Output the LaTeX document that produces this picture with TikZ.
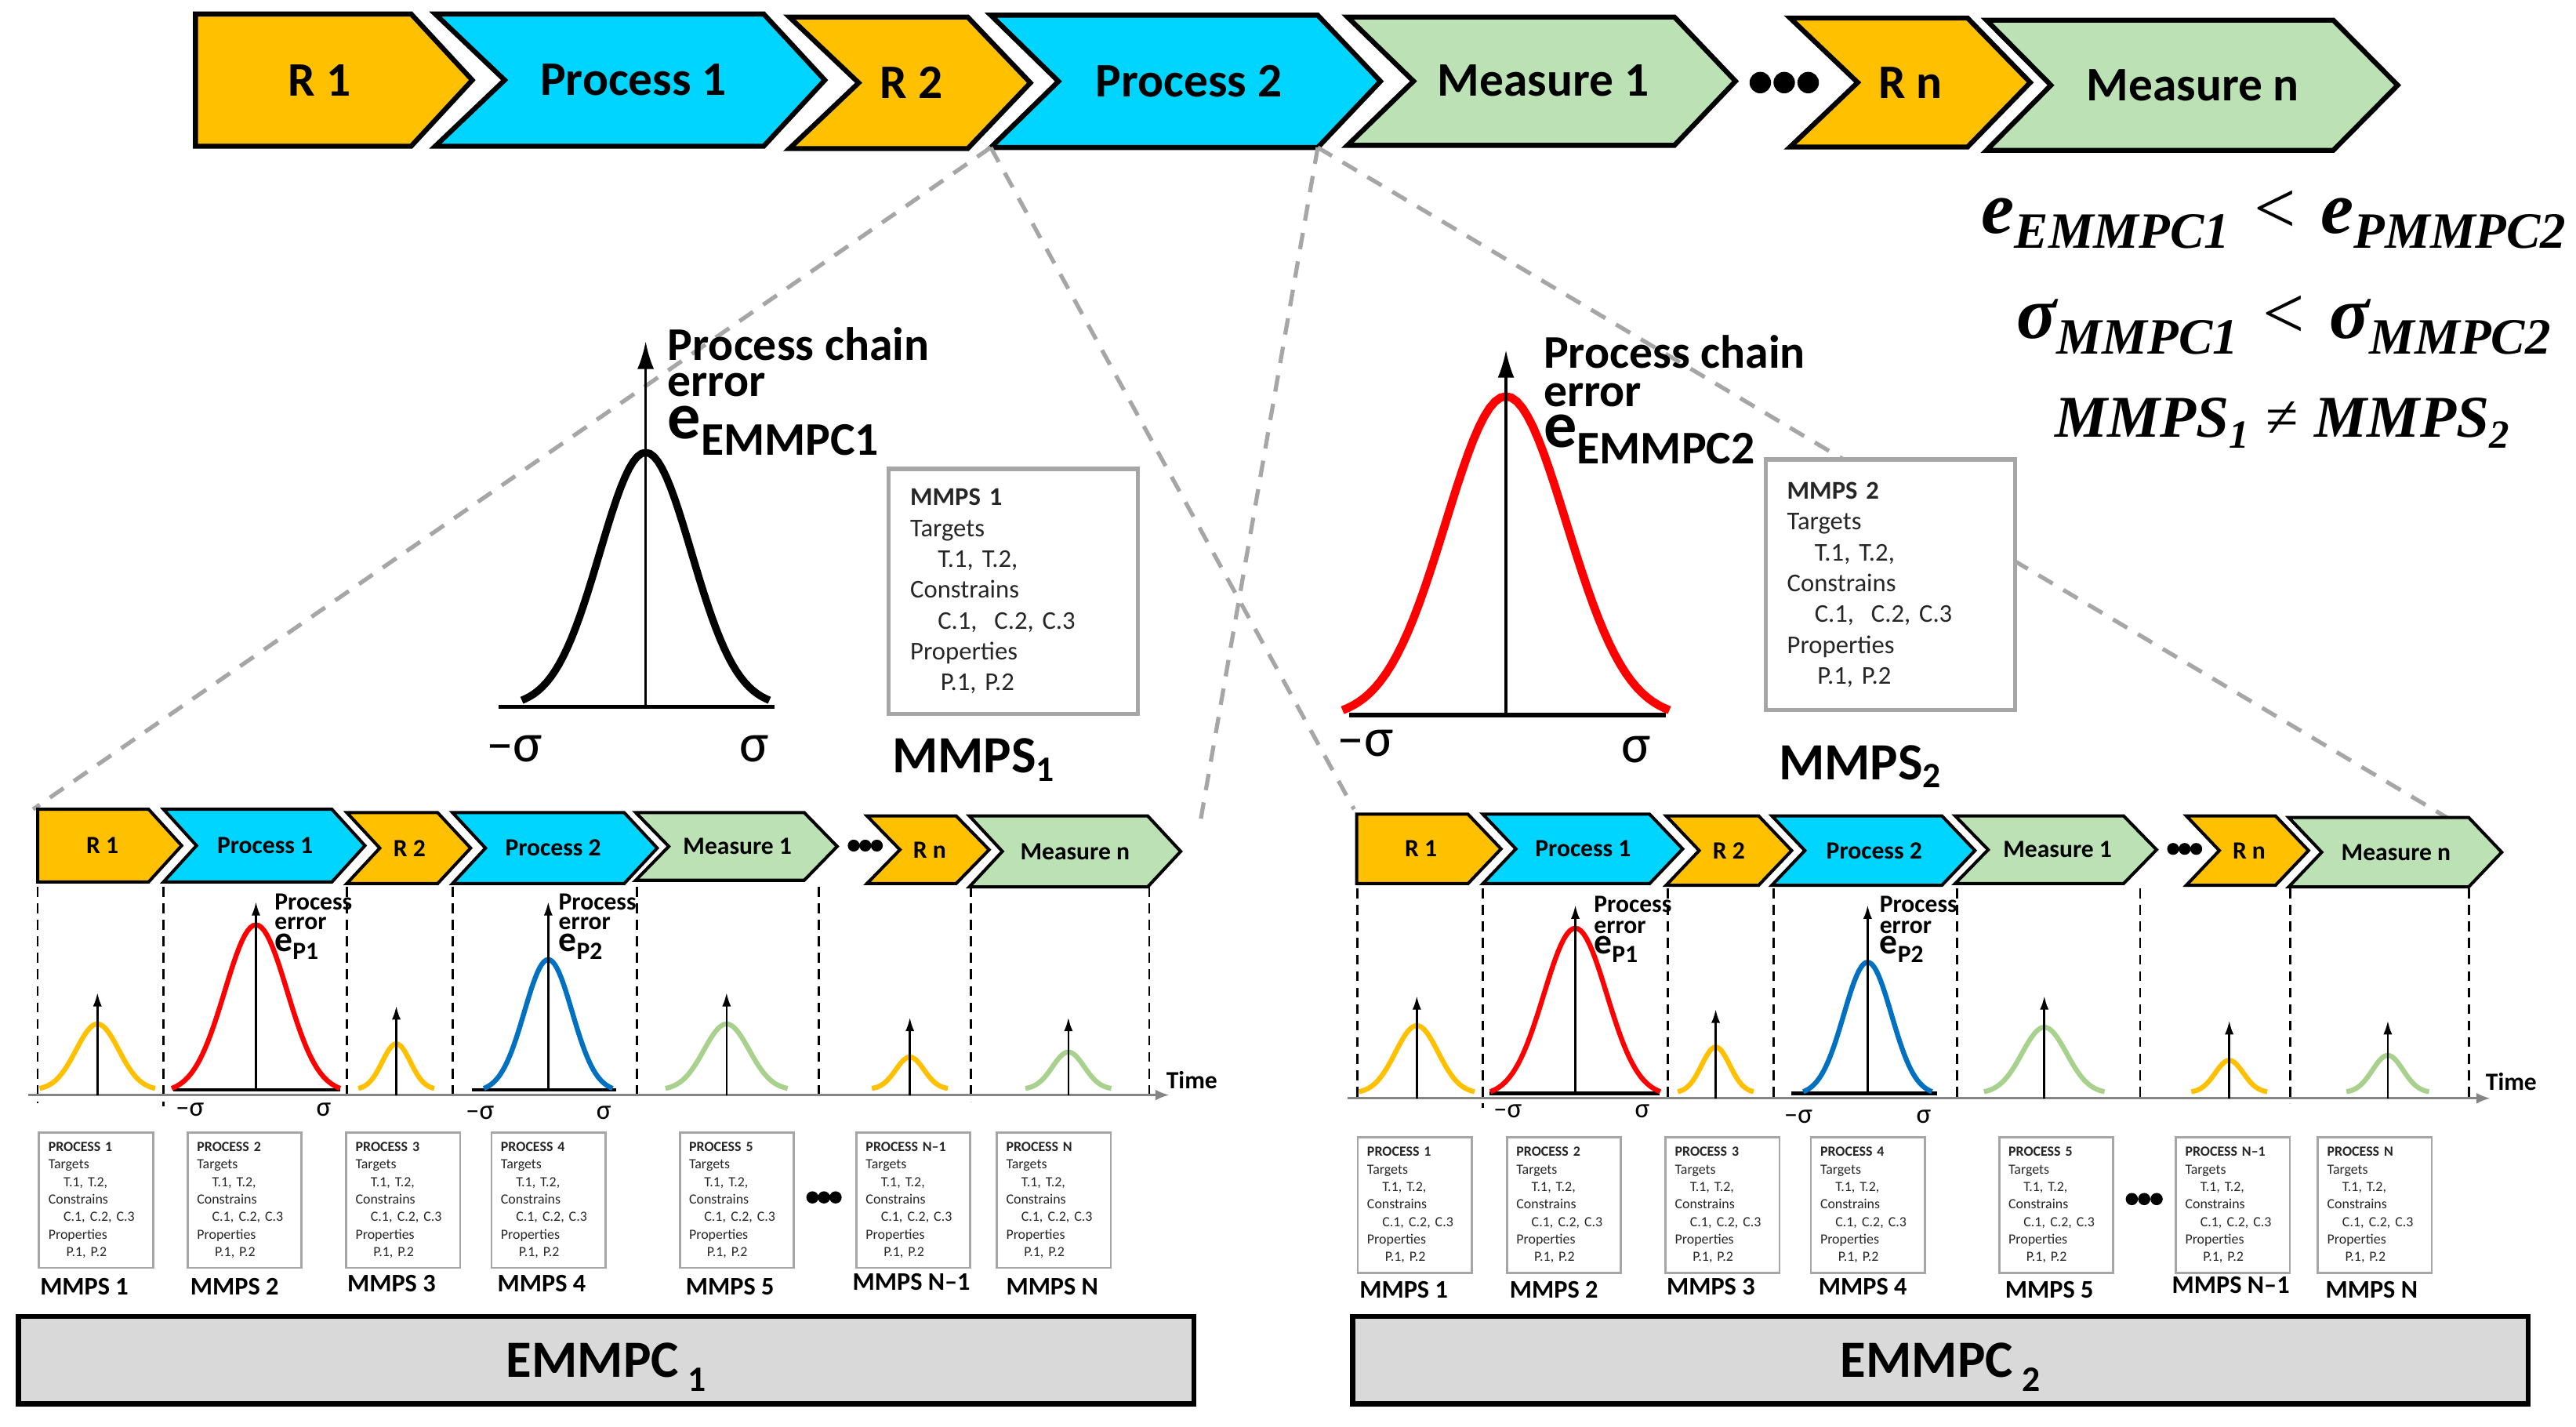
\RequirePackage{fix-cm}
\documentclass[tikz,border=0pt]{standalone}
\usepackage{fontspec}
\setmainfont{Carlito}
\newfontfamily\cambria{Liberation Serif}
\usetikzlibrary{arrows.meta}
\definecolor{cOr}{HTML}{FFC000}
\definecolor{cCy}{HTML}{00D5FF}
\definecolor{cGr}{HTML}{BBE1B5}
\definecolor{cGrC}{HTML}{A9D18E}
\definecolor{cBl}{HTML}{0070C0}
\definecolor{cRd}{HTML}{FF0000}
\definecolor{cGy}{HTML}{A6A6A6}
\definecolor{cBar}{HTML}{D9D9D9}

% chevron: name, L, R, top, bottom, tip depth, notch depth, fill, style
\newcommand{\chev}[9]{%
  \coordinate (#1-tl) at (#2,#4);
  \coordinate (#1-tr) at ({#3-#6},#4);
  \coordinate (#1-tip) at (#3,{(#4+#5)/2});
  \coordinate (#1-br) at ({#3-#6},#5);
  \coordinate (#1-bl) at (#2,#5);
  \coordinate (#1-notch) at ({#2+#7},{(#4+#5)/2});
  \filldraw[#9, fill=#8] (#1-tl) -- (#1-tr) -- (#1-tip) -- (#1-br) -- (#1-bl) -- (#1-notch) -- cycle;
}
% bell curve: style, centre, half width, end level, peak level
\newcommand{\bell}[5]{%
  \draw[#1] plot[domain=-1:1, samples=61] ({#2+#3*(\x)},{#4-(#4-#5)*(exp(-3.65*(\x)^2)-0.026)/0.974});
}
% small distribution with arrow: name, centre, half width, end, peak, arrow top, axis level, colour
\newcommand{\dist}[8]{%
  \coordinate (#1b) at (#2,#7);
  \coordinate (#1t) at (#2,#6);
  \bell{smallcurve, draw=#8}{#2}{#3}{#4}{#5}
  \draw[smallarrow] (#1b) -- (#1t);
}
% small MMPS box: name, left, top, title
\newcommand{\mmpsbox}[4]{%
  \node[sboxst, anchor=north west] (#1) at (#2,#3) {\mbox{\textbf{#4}}\\Targets\\\hspace*{5.5pt}T.1, T.2,\\Constrains\\\hspace*{5.5pt}\mbox{C.1,\hspace{0.35em}C.2, C.3}\\Properties\\\hspace*{6.5pt}P.1, P.2};
}
\newcommand{\mlab}[4]{%
  \node[mlabst] (#1) at (#2,#3) {#4};
}
\newcommand{\sub}[2]{\raisebox{#1}{\fontsize{18.5}{18.5}\selectfont #2}}

\begin{document}
\begin{tikzpicture}[x=0.6pt,y=-0.6pt,
  bigchev/.style={draw=black, line width=1.8pt, line join=miter, miter limit=10},
  smallchev/.style={draw=black, line width=1.15pt, line join=miter, miter limit=10},
  toplbl/.style={font=\fontsize{17.5}{20}\selectfont\bfseries, inner sep=0},
  smlbl/.style={font=\fontsize{9}{10}\selectfont\bfseries, inner sep=0},
  zoomline/.style={draw=cGy, line width=1.5pt, dash pattern=on 6pt off 4.5pt},
  vdash/.style={draw=black, line width=0.8pt, dash pattern=on 3.6pt off 2.4pt},
  bigarrow/.style={draw=black, line width=0.9pt, -{Latex[length=10pt,width=6pt]}},
  smallarrow/.style={draw=black, line width=0.75pt, -{Latex[length=5pt,width=3.2pt]}},
  timeaxis/.style={draw=cGy!80!black, line width=0.8pt, -{Latex[length=5pt,width=4pt]}},
  smallcurve/.style={line width=1.8pt},
  baseln/.style={draw=black, line width=1.2pt},
  bigbase/.style={draw=black, line width=1.6pt},
  chainlbl/.style={font=\fontsize{17}{13.2}\selectfont\bfseries, inner sep=0, anchor=base west},
  perrlbl/.style={font=\fontsize{9}{7.2}\selectfont\bfseries, inner sep=0, anchor=base west},
  sigbig/.style={font=\fontsize{20}{20}\selectfont, inner sep=0},
  sigsmall/.style={font=\fontsize{10}{10}\selectfont, inner sep=0},
  bigbox/.style={draw=cGy, line width=1.5pt, fill=white, text width=75pt, inner xsep=7.8pt, inner ysep=0pt, minimum height=89pt, align=left, font=\fontsize{9.3}{11.2}\selectfont, text=black!85},
  sboxst/.style={draw=cGy, line width=0.8pt, fill=white, text width=34.6pt, inner xsep=3.4pt, inner ysep=0pt, minimum height=49.2pt, align=left, font=\fontsize{5.1}{6.37}\selectfont, text=black!85},
  mlabst/.style={font=\fontsize{9.2}{10}\selectfont\bfseries, inner sep=0, anchor=base west},
  mmpsbig/.style={font=\fontsize{19}{20}\selectfont\bfseries, inner sep=0, anchor=base west},
  bar/.style={draw=black, line width=1.9pt, fill=cBar, minimum width=427.2pt, minimum height=31.8pt, inner sep=0},
  barlbl/.style={font=\fontsize{19}{20}\selectfont\bfseries, inner sep=0, anchor=base},
  formula/.style={font=\cambria\bfseries\itshape\fontsize{27}{28}\selectfont, inner sep=0, anchor=base},
  dot/.style={fill=black}
]
\useasboundingbox (0,0) rectangle (1560,864);
\fill[white] (0,0) rectangle (1560,864);

% ---------------- top chain ----------------
\chev{TR1}{118.4}{286}{8.5}{88.5}{37}{0}{cOr}{bigchev}
\chev{TP1}{263.6}{499.5}{8.5}{88.5}{37}{42}{cCy}{bigchev}
\chev{TR2}{478}{624}{10.3}{90}{38}{42}{cOr}{bigchev}
\chev{TP2}{600}{836}{9.2}{89.3}{38}{41}{cCy}{bigchev}
\chev{TM1}{816}{1051}{10.3}{88}{37}{40}{cGr}{bigchev}
\chev{TRn}{1084}{1229.5}{10.9}{89}{38}{41}{cOr}{bigchev}
\chev{TMn}{1203}{1452}{12.2}{91}{39}{39}{cGr}{bigchev}
\node[toplbl] (tR1) at (193.6,48.5) {R 1};
\node[toplbl] (tP1) at (383.6,48.5) {Process 1};
\node[toplbl] (tR2) at (552,50) {R 2};
\node[toplbl] (tP2) at (720,49) {Process 2};
\node[toplbl] (tM1) at (934.6,49) {Measure 1};
\node[toplbl] (tRn) at (1157,50) {R n};
\node[toplbl] (tMn) at (1328,51.6) {Measure n};
\fill[dot] (1066,50) circle[radius=6.5] (1080.5,50) circle[radius=6.5] (1095,50) circle[radius=6.5];

% ---------------- zoom lines ----------------
\coordinate (zC) at (727,497);
\coordinate (zD) at (1497,504);
\coordinate (zA) at (20,490);
\coordinate (zB) at (820,490);
\draw[zoomline] (TP2-bl) -- (zA);
\draw[zoomline] (TP2-bl) -- (zB);
\draw[zoomline] (TP2-br) -- (zC);
\draw[zoomline] (TP2-br) -- (zD);

% ---------------- middle left ----------------
\coordinate (bA1) at (391,428);
\coordinate (bA1t) at (391,206.7);
\draw[bigbase] (302,428) -- (469,428);
\bell{draw=black, line width=2.7pt}{391}{75}{424}{274}
\draw[bigarrow] (bA1) -- (bA1t);
\node[chainlbl] (pc1a) at (404,218) {Process chain};
\node[chainlbl] (pc1b) at (404,240) {error};
\node[chainlbl] (pc1c) at (404,265.7) {{\fontsize{24}{24}\selectfont e}\raisebox{-6pt}{EMMPC1}};
\node[sigbig] (s1a) at (311.5,453.5) {–σ};
\node[sigbig] (s1b) at (457,453.5) {σ};
\node[bigbox, anchor=north west] (MB1) at (537,282.6) {\textbf{MMPS 1}\\Targets\\\hspace*{10pt}T.1, T.2,\\Constrains\\\hspace*{10pt}C.1,\ \ C.2, C.3\\Properties\\\hspace*{11pt}P.1, P.2};
\node[mmpsbig] (MM1) at (540,468) {MMPS\raisebox{-3pt}{\fontsize{13}{13}\selectfont 1}};

% ---------------- middle right ----------------
\coordinate (bA2) at (912,433);
\coordinate (bA2t) at (912,212);
\draw[bigbase] (817,433) -- (1009,433);
\bell{draw=cRd, line width=3pt}{912}{99}{430}{240}
\draw[bigarrow] (bA2) -- (bA2t);
\node[chainlbl] (pc2a) at (934.5,223) {Process chain};
\node[chainlbl] (pc2b) at (934.5,246) {error};
\node[chainlbl] (pc2c) at (934.5,271) {{\fontsize{24}{24}\selectfont e}\raisebox{-6pt}{EMMPC2}};
\node[sigbig] (s2a) at (827,450) {–σ};
\node[sigbig] (s2b) at (991,454) {σ};
\node[bigbox, anchor=north west, minimum height=91pt] (MB2) at (1068,277) {\textbf{MMPS 2}\\Targets\\\hspace*{10pt}T.1, T.2,\\Constrains\\\hspace*{10pt}C.1,\ \ C.2, C.3\\Properties\\\hspace*{11pt}P.1, P.2};
\node[mmpsbig] (MM2) at (1077,472) {MMPS\raisebox{-3pt}{\fontsize{13}{13}\selectfont 2}};

% ---------------- formulas ----------------
\node[formula] (f1) at (1377,141) {e\sub{-5.6pt}{EMMPC1}\hspace{9pt}{\upshape\mdseries <}\hspace{9pt}e\sub{-5.6pt}{PMMPC2}};
\node[formula] (f2) at (1383,205) {σ\sub{-5.6pt}{MMPC1}\hspace{9pt}{\upshape\mdseries <}\hspace{9pt}σ\sub{-5.6pt}{MMPC2}};
\node[formula, font=\cambria\bfseries\itshape\fontsize{21.5}{22}\selectfont] (f3) at (1382,264.5) {MMPS\raisebox{-4pt}{\fontsize{14.5}{14.5}\selectfont 1}\hspace{6pt}{\upshape\mdseries ≠}\hspace{6pt}MMPS\raisebox{-4pt}{\fontsize{14.5}{14.5}\selectfont 2}};

% ---------------- lower left chain ----------------
\chev{LR1}{22.8}{110}{490}{534}{20}{0}{cOr}{smallchev}
\chev{LP1}{99}{221}{490}{534}{20}{20}{cCy}{smallchev}
\chev{LR2}{210}{285}{492}{535}{20}{20}{cOr}{smallchev}
\chev{LP2}{274}{398}{492}{535}{20}{20}{cCy}{smallchev}
\chev{LM1}{385}{507}{492}{533}{20}{20}{cGr}{smallchev}
\chev{LRn}{525}{599}{494}{535}{20}{20}{cOr}{smallchev}
\chev{LMn}{587}{715}{494}{537}{20}{20}{cGr}{smallchev}
\node[smlbl] (lR1) at (62,512) {R 1};
\node[smlbl] (lP1) at (160.5,512) {Process 1};
\node[smlbl] (lR2) at (248,513.5) {R 2};
\node[smlbl] (lP2) at (335,513.5) {Process 2};
\node[smlbl] (lM1) at (446.6,512.5) {Measure 1};
\node[smlbl] (lRn) at (563,514.5) {R n};
\node[smlbl] (lMn) at (651,515.5) {Measure n};
\fill[dot] (517,512) circle[radius=3.6] (524,512) circle[radius=3.6] (531,512) circle[radius=3.6];

\foreach \xx/\yy in {22.8/668, 99/670, 210/664, 274/664, 385.6/664, 496/664, 588/667, 696/664}
  \draw[vdash] (\xx,537) -- (\xx,\yy);
\coordinate (tl0) at (17,663);
\coordinate (tl1) at (708,663);
\draw[timeaxis] (tl0) -- (tl1);
\node[smlbl, anchor=base west] (time1) at (706,659) {Time};

\dist{dl1}{59}{35}{659}{620}{601}{663}{cOr}
\draw[baseln] (105,660) -- (206,660);
\dist{dl2}{155}{51}{659}{560}{546}{660}{cRd}
\dist{dl3}{240}{23}{659}{632}{609}{663}{cOr}
\draw[baseln] (286,660) -- (373,660);
\dist{dl4}{332}{39}{659}{581}{546}{660}{cBl}
\dist{dl5}{440}{37}{659}{620}{601}{663}{cGrC}
\dist{dl6}{551}{23}{659}{640}{616}{663}{cOr}
\dist{dl7}{647}{26}{659}{637}{616}{663}{cGrC}

\node[perrlbl] (el1a) at (166,551) {Process};
\node[perrlbl] (el1b) at (166,563) {error};
\node[perrlbl] (el1c) at (166,576) {{\fontsize{13}{13}\selectfont e}\raisebox{-3pt}{P1}};
\node[perrlbl] (el2a) at (338,551) {Process};
\node[perrlbl] (el2b) at (338,563) {error};
\node[perrlbl] (el2c) at (338,576) {{\fontsize{13}{13}\selectfont e}\raisebox{-3pt}{P2}};
\node[sigsmall] (sl1) at (115,672) {–σ};
\node[sigsmall] (sl2) at (196,672) {σ};
\node[sigsmall] (sl3) at (290.6,674) {–σ};
\node[sigsmall] (sl4) at (365.7,674) {σ};

\mmpsbox{LB1}{23}{685}{PROCESS 1}
\mmpsbox{LB2}{113}{685}{PROCESS 2}
\mmpsbox{LB3}{209}{685}{PROCESS 3}
\mmpsbox{LB4}{297}{685}{PROCESS 4}
\mmpsbox{LB5}{411}{685}{PROCESS 5}
\mmpsbox{LB6}{518}{685}{PROCESS N–1}
\mmpsbox{LB7}{603}{685}{PROCESS N}
\fill[dot] (492,725) circle[radius=3.7] (499,725) circle[radius=3.7] (506,725) circle[radius=3.7];
\mlab{LM1l}{24}{784}{MMPS 1}
\mlab{LM2l}{115}{784}{MMPS 2}
\mlab{LM3l}{210}{782}{MMPS 3}
\mlab{LM4l}{301}{782}{MMPS 4}
\mlab{LM5l}{415}{784}{MMPS 5}
\mlab{LM6l}{516}{781}{MMPS N–1}
\mlab{LM7l}{609}{784}{MMPS N}

\node[bar] (bar1) at (367,823.5) {};
\node[barlbl] (bar1t) at (367,834) {EMMPC\,\raisebox{-5pt}{\fontsize{13}{13}\selectfont 1}};

% ---------------- lower right chain ----------------
\chev{RR1}{821.6}{909}{493}{535}{20}{0}{cOr}{smallchev}
\chev{RP1}{898}{1019}{493}{535}{20}{20}{cCy}{smallchev}
\chev{RR2}{1009}{1085}{494}{536}{20}{20}{cOr}{smallchev}
\chev{RP2}{1073}{1196}{494}{536}{20}{20}{cCy}{smallchev}
\chev{RM1}{1184}{1306}{494}{535}{20}{20}{cGr}{smallchev}
\chev{RRn}{1324}{1398}{494}{536}{20}{20}{cOr}{smallchev}
\chev{RMn}{1386}{1515}{495}{537}{20}{20}{cGr}{smallchev}
\node[smlbl] (rR1) at (860.5,514) {R 1};
\node[smlbl] (rP1) at (958.7,514) {Process 1};
\node[smlbl] (rR2) at (1047,515) {R 2};
\node[smlbl] (rP2) at (1135,515) {Process 2};
\node[smlbl] (rM1) at (1246,514.5) {Measure 1};
\node[smlbl] (rRn) at (1362,515) {R n};
\node[smlbl] (rMn) at (1451,516) {Measure n};
\fill[dot] (1316,514) circle[radius=3.6] (1323,514) circle[radius=3.6] (1330,514) circle[radius=3.6];

\foreach \xx/\yy in {822/667, 898/671, 1010/665, 1074/665, 1185/667, 1296/667, 1387/668, 1495/665}
  \draw[vdash] (\xx,538) -- (\xx,\yy);
\coordinate (tr0) at (816,665);
\coordinate (tr1) at (1508,665);
\draw[timeaxis] (tr0) -- (tr1);
\node[smlbl, anchor=base west] (time2) at (1505,660) {Time};

\dist{dr1}{858}{35}{661}{621}{603}{665}{cOr}
\draw[baseln] (902,662) -- (1005,662);
\dist{dr2}{954}{51.5}{661}{562}{548}{662}{cRd}
\dist{dr3}{1039}{23}{661}{634}{611}{665}{cOr}
\draw[baseln] (1085,662) -- (1173,662);
\dist{dr4}{1131}{39}{661}{582.6}{548}{662}{cBl}
\dist{dr5}{1238}{36.5}{661}{622}{603}{665}{cGrC}
\dist{dr6}{1350}{23}{661}{642}{618}{665}{cOr}
\dist{dr7}{1446}{25}{661}{639}{618}{665}{cGrC}

\node[perrlbl] (er1a) at (965,552.5) {Process};
\node[perrlbl] (er1b) at (965,565) {error};
\node[perrlbl] (er1c) at (965,577.5) {{\fontsize{13}{13}\selectfont e}\raisebox{-3pt}{P1}};
\node[perrlbl] (er2a) at (1138,552.5) {Process};
\node[perrlbl] (er2b) at (1138,565) {error};
\node[perrlbl] (er2c) at (1138,577.5) {{\fontsize{13}{13}\selectfont e}\raisebox{-3pt}{P2}};
\node[sigsmall] (sr1) at (913,673) {–σ};
\node[sigsmall] (sr2) at (994.5,673) {σ};
\node[sigsmall] (sr3) at (1089,676) {–σ};
\node[sigsmall] (sr4) at (1165,676) {σ};

\mmpsbox{RB1}{821.6}{688}{PROCESS 1}
\mmpsbox{RB2}{912}{688}{PROCESS 2}
\mmpsbox{RB3}{1008}{688}{PROCESS 3}
\mmpsbox{RB4}{1096}{688}{PROCESS 4}
\mmpsbox{RB5}{1210}{688}{PROCESS 5}
\mmpsbox{RB6}{1317}{688}{PROCESS N–1}
\mmpsbox{RB7}{1403}{688}{PROCESS N}
\fill[dot] (1291,726) circle[radius=3.7] (1298.5,726) circle[radius=3.7] (1306,726) circle[radius=3.7];
\mlab{RM1l}{823}{786}{MMPS 1}
\mlab{RM2l}{914}{786}{MMPS 2}
\mlab{RM3l}{1009}{784}{MMPS 3}
\mlab{RM4l}{1101}{784}{MMPS 4}
\mlab{RM5l}{1214}{786}{MMPS 5}
\mlab{RM6l}{1315}{783}{MMPS N–1}
\mlab{RM7l}{1408}{786}{MMPS N}

\node[bar] (bar2) at (1175,823.5) {};
\node[barlbl] (bar2t) at (1175,834) {EMMPC\,\raisebox{-5pt}{\fontsize{13}{13}\selectfont 2}};
\end{tikzpicture}
\end{document}
